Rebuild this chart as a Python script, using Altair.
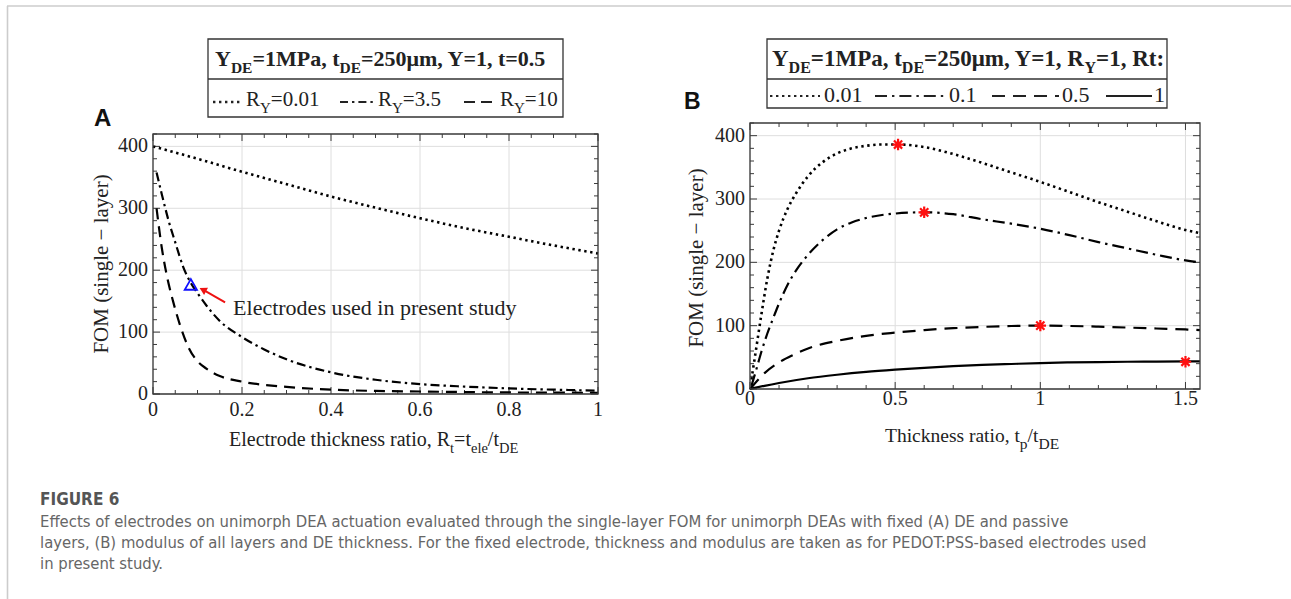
import altair as alt
import pandas as pd

# ---------------- data ----------------
# Panel A: FOM vs electrode thickness ratio Rt, for three modulus ratios R_Y
A_RY001_X = [0.0, 0.1, 0.2, 0.3, 0.4, 0.5, 0.6, 0.7, 0.8, 0.9, 1.0]
A_RY001_Y = [400, 380, 359, 339, 319, 301, 284, 268, 254, 240, 227]

A_RY35_X = [0.008, 0.02, 0.035, 0.05, 0.068, 0.087, 0.1, 0.12, 0.15, 0.2, 0.25, 0.3, 0.4, 0.5, 0.6, 0.7, 0.8, 0.9, 1.0]
A_RY35_Y = [358, 322, 280, 245, 205, 177, 163, 143, 118, 92, 72, 56, 35, 23, 16, 12, 9, 7, 5.5]

A_RY10_X = [0.008, 0.02, 0.03, 0.045, 0.06, 0.08, 0.1, 0.12, 0.15, 0.2, 0.3, 0.4, 0.5, 0.6, 0.8, 1.0]
A_RY10_Y = [300, 235, 195, 150, 113, 75, 53, 41, 29, 20, 11.5, 7, 5, 4, 2.5, 2]

# electrode used in the present study
A_MARK_X = [0.085]
A_MARK_Y = [177]

# Panel B: FOM vs passive-layer thickness ratio, for four electrode thickness ratios Rt
B_RT001_X = [0.005, 0.02, 0.04, 0.06, 0.08, 0.1, 0.13, 0.16, 0.2, 0.25, 0.3, 0.35, 0.4, 0.45, 0.51,
             0.6, 0.7, 0.8, 0.9, 1.0, 1.1, 1.2, 1.3, 1.4, 1.5, 1.55]
B_RT001_Y = [15, 60, 120, 175, 218, 250, 285, 310, 336, 358, 372, 380, 384, 386, 386,
             382, 371, 357, 342, 327, 311, 295, 280, 265, 251, 246]

B_RT01_X = [0.005, 0.02, 0.04, 0.06, 0.08, 0.1, 0.13, 0.16, 0.2, 0.25, 0.3, 0.35, 0.4, 0.5, 0.6,
            0.7, 0.8, 0.9, 1.0, 1.1, 1.2, 1.3, 1.4, 1.5, 1.55]
B_RT01_Y = [5, 28, 60, 88, 112, 135, 165, 188, 212, 235, 252, 263, 270, 277, 279,
            276, 268, 261, 253, 243, 232, 222, 212, 203, 200]

B_RT05_X = [0.0, 0.05, 0.1, 0.15, 0.2, 0.3, 0.4, 0.5, 0.6, 0.7, 0.8, 0.9, 1.0, 1.1, 1.2, 1.3, 1.4, 1.5, 1.55]
B_RT05_Y = [0, 25, 42, 54, 64, 76, 84, 89, 93, 96, 98, 99.5, 100, 99.5, 98.5, 97, 95.5, 94, 93]

B_RT1_X = [0.0, 0.05, 0.1, 0.2, 0.3, 0.4, 0.5, 0.6, 0.7, 0.8, 0.9, 1.0, 1.1, 1.2, 1.3, 1.4, 1.5, 1.55]
B_RT1_Y = [0, 5, 9.5, 17, 22.5, 27, 30.5, 33.5, 36, 38, 39.5, 41, 42, 42.5, 43, 43.3, 43.5, 43.5]

# optimum points
B_OPT_X = [0.51, 0.6, 1.0, 1.5]
B_OPT_Y = [386, 279, 100, 43]

# axes
A_XDOM = [0, 1]
A_YDOM = [0, 420]
A_XTICKS = [0, 0.2, 0.4, 0.6, 0.8, 1]
A_XLABELS = ["0", "0.2", "0.4", "0.6", "0.8", "1"]
B_XDOM = [0, 1.55]
B_YDOM = [0, 420]
B_XTICKS = [0, 0.5, 1, 1.5]
B_XLABELS = ["0", "0.5", "1", "1.5"]
YTICKS = [0, 100, 200, 300, 400]
YLABELS = ["0", "100", "200", "300", "400"]

CAPTION = [
    "Effects of electrodes on unimorph DEA actuation evaluated through the single-layer FOM for unimorph DEAs with fixed (A) DE and passive",
    "layers, (B) modulus of all layers and DE thickness. For the fixed electrode, thickness and modulus are taken as for PEDOT:PSS-based electrodes used",
    "in present study.",
]

# ---------------- layout ----------------
W, H = 1291, 599
A_L, A_R, A_T, A_B = 153, 598, 134, 394
B_L, B_R, B_T, B_B = 750, 1200, 123, 389

SERIF = "Liberation Serif, Times New Roman, serif"
SANS = "Liberation Sans, Arial, sans-serif"
NARROW = "Liberation Sans Narrow, DejaVu Sans Condensed, Open Sans, sans-serif"
INK = "#222222"
FRAME = "#3a3a3a"
GRID = "#dedede"

ONE = pd.DataFrame({"k": [0]})

DOT = [2.4, 3.6]
DASHDOT = [9, 4, 2.4, 4]
DASH = [11, 7]

# advance widths (per 1000 em) of the serif face, used to set subscripts next to their base
REG = {" ": 250, "(": 333, ")": 333, ",": 250, ".": 250, "/": 278, "=": 564, ":": 278,
       "D": 722, "E": 611, "R": 667, "T": 611, "Y": 722,
       "a": 444, "c": 444, "d": 500, "e": 444, "h": 500, "i": 278, "k": 500, "l": 278,
       "n": 500, "o": 500, "p": 500, "r": 333, "s": 389, "t": 278}
BLD = {" ": 250, ",": 250, ".": 250, "=": 570, ":": 333, "D": 722, "E": 667, "M": 944,
       "P": 611, "R": 722, "Y": 722, "a": 500, "m": 833, "t": 333, "\u03bc": 556}


def adv(s, size, bold):
    table = BLD if bold else REG
    return sum(table.get(c, 500) for c in s) / 1000 * size


def txt(s, x, y, size=20, bold=False, font=SERIF, align="left", baseline="alphabetic",
        color=INK, angle=0):
    return alt.Chart(ONE).mark_text(
        text=s, align=align, baseline=baseline, fontSize=size,
        fontWeight="bold" if bold else "normal", font=font, color=color, angle=angle,
    ).encode(x=alt.value(x), y=alt.value(y))


def chain(x, y, parts, size=20, sub=14, drop=7, bold=False):
    """Run of text pieces; pieces starting with '_' are set as subscripts."""
    out = []
    for p in parts:
        is_sub = p.startswith("_")
        s = p[1:] if is_sub else p
        fs = sub if is_sub else size
        out.append(txt(s, x, y + (drop if is_sub else 0), size=fs, bold=bold))
        x += adv(s, fs, bold)
    return out


def hline(x1, x2, y, dash=None, color=INK, width=2.2):
    kw = dict(color=color, strokeWidth=width)
    if dash:
        kw["strokeDash"] = dash
    return alt.Chart(ONE).mark_rule(**kw).encode(
        x=alt.value(x1), x2=alt.value(x2), y=alt.value(y))


def box(x1, x2, y1, y2, color=FRAME, width=1.3):
    return alt.Chart(ONE).mark_rect(fillOpacity=0, stroke=color, strokeWidth=width).encode(
        x=alt.value(x1), x2=alt.value(x2), y=alt.value(y1), y2=alt.value(y2))


def panel(xdom, ydom, L, R, T, B, xticks, xlabels, xminor, yminor, xlab_y, series, extra):
    xs = alt.Scale(domain=xdom, range=[L, R], nice=False, zero=False)
    ys = alt.Scale(domain=ydom, range=[B, T], nice=False, zero=False)

    def X(f):
        return alt.X(f, type="quantitative", scale=xs, axis=None)

    def Y(f):
        return alt.Y(f, type="quantitative", scale=ys, axis=None)

    xt = pd.DataFrame({"v": xticks, "lab": xlabels})
    yt = pd.DataFrame({"v": YTICKS, "lab": YLABELS})
    xm = pd.DataFrame({"v": xminor})
    ym = pd.DataFrame({"v": yminor})

    layers = [
        alt.Chart(xt).mark_rule(color=GRID, strokeWidth=1).encode(
            x=X("v"), y=alt.value(T), y2=alt.value(B)),
        alt.Chart(yt).mark_rule(color=GRID, strokeWidth=1).encode(
            y=Y("v"), x=alt.value(L), x2=alt.value(R)),
    ]
    for df, ln in ((xt, 7), (xm, 4)):
        layers.append(alt.Chart(df).mark_rule(color=FRAME, strokeWidth=1).encode(
            x=X("v"), y=alt.value(B), y2=alt.value(B - ln)))
        layers.append(alt.Chart(df).mark_rule(color=FRAME, strokeWidth=1).encode(
            x=X("v"), y=alt.value(T), y2=alt.value(T + ln)))
    for df, ln in ((yt, 7), (ym, 4)):
        layers.append(alt.Chart(df).mark_rule(color=FRAME, strokeWidth=1).encode(
            y=Y("v"), x=alt.value(L), x2=alt.value(L + ln)))
        layers.append(alt.Chart(df).mark_rule(color=FRAME, strokeWidth=1).encode(
            y=Y("v"), x=alt.value(R), x2=alt.value(R - ln)))

    for xv, yv, dash, width in series:
        kw = dict(interpolate="monotone", color="black", strokeWidth=width, strokeCap="butt")
        if dash:
            kw["strokeDash"] = dash
        layers.append(alt.Chart(pd.DataFrame({"x": xv, "y": yv})).mark_line(**kw).encode(
            x=X("x"), y=Y("y")))

    layers.append(box(L, R, T, B))
    layers.append(alt.Chart(xt).mark_text(font=SERIF, fontSize=20, color=INK, baseline="middle").encode(
        x=X("v"), y=alt.value(xlab_y), text="lab:N"))
    layers.append(alt.Chart(yt).mark_text(font=SERIF, fontSize=20, color=INK, baseline="middle",
                                          align="right").encode(
        y=Y("v"), x=alt.value(L - 5), text="lab:N"))
    layers += [e(X, Y) for e in extra]
    return alt.layer(*layers)


# ---- panel A ----
def a_marker(X, Y):
    return alt.Chart(pd.DataFrame({"x": A_MARK_X, "y": A_MARK_Y})).mark_point(
        shape="triangle-up", filled=False, color="#1010ff", strokeWidth=1.8, size=150, opacity=1
    ).encode(x=X("x"), y=Y("y"))


def a_arrow(X, Y):
    return alt.Chart(pd.DataFrame({"x": [0.162], "y": [148], "x2": [0.118], "y2": [166]})).mark_rule(
        color="#ee1111", strokeWidth=2).encode(x=X("x"), y=Y("y"), x2="x2", y2="y2")


def a_head(X, Y):
    return alt.Chart(pd.DataFrame({"x": [0.112], "y": [168.5]})).mark_point(
        shape="triangle-up", filled=True, color="#ee1111", size=70, angle=298, opacity=1
    ).encode(x=X("x"), y=Y("y"))


def a_note(X, Y):
    return alt.Chart(pd.DataFrame({"x": [0.18], "y": [139], "t": ["Electrodes used in present study"]})).mark_text(
        font=SERIF, fontSize=22, color=INK, align="left", baseline="middle").encode(
        x=X("x"), y=Y("y"), text="t:N")


a_minor_x = [round(i * 0.05, 2) for i in range(21) if i % 4]
minor_y = [v for v in range(0, 421, 20) if v % 100]
b_minor_x = [round(i * 0.1, 1) for i in range(16) if i % 5]

panelA = panel(A_XDOM, A_YDOM, A_L, A_R, A_T, A_B, A_XTICKS, A_XLABELS, a_minor_x, minor_y, 410,
               [(A_RY001_X, A_RY001_Y, DOT, 2.6),
                (A_RY35_X, A_RY35_Y, DASHDOT, 2.2),
                (A_RY10_X, A_RY10_Y, DASH, 2.2)],
               [a_marker, a_arrow, a_head, a_note])


# ---- panel B ----
ASTERISK = "M-1,0L1,0M0,-1L0,1M-0.72,-0.72L0.72,0.72M-0.72,0.72L0.72,-0.72"


def b_opt(X, Y):
    return alt.Chart(pd.DataFrame({"x": B_OPT_X, "y": B_OPT_Y})).mark_point(
        shape=ASTERISK, filled=False, color="#ff1010", strokeWidth=2.2, size=130, opacity=1
    ).encode(x=X("x"), y=Y("y"))


panelB = panel(B_XDOM, B_YDOM, B_L, B_R, B_T, B_B, B_XTICKS, B_XLABELS, b_minor_x, minor_y, 399,
               [(B_RT001_X, B_RT001_Y, DOT, 2.6),
                (B_RT01_X, B_RT01_Y, [12, 5, 2.4, 5], 2.2),
                (B_RT05_X, B_RT05_Y, [13, 8], 2.2),
                (B_RT1_X, B_RT1_Y, None, 2.2)],
               [b_opt])

# ---------------- annotations ----------------
ann = [
    # page frame
    hline(7, W, 6, color="#cccccc", width=1.6),
    alt.Chart(ONE).mark_rule(color="#cccccc", strokeWidth=1.6).encode(
        x=alt.value(7.5), y=alt.value(6), y2=alt.value(H)),
    # panel letters
    txt("A", 94, 126, size=24, bold=True, font=SANS, color="#111111"),
    txt("B", 684, 109, size=23, bold=True, font=SANS, color="#111111"),
    # panel A legend
    box(208, 563, 39, 117, color="#333333", width=1.3),
    hline(208, 563, 79, color="#333333", width=1.3),
    hline(213, 242, 102, DOT, width=2.4),
    hline(340, 374, 102, [8, 4, 2.4, 4], width=2),
    hline(464, 496, 102, [11, 6], width=2),
    # panel B legend
    box(767, 1167, 39, 108, color="#333333", width=1.3),
    hline(767, 1167, 79, color="#333333", width=1.3),
    hline(770, 820, 96, DOT, width=2.2), txt("0.01", 824, 102, size=22),
    hline(875, 946, 96, [12, 5, 2.4, 5], width=2), txt("0.1", 949, 102, size=22),
    hline(992, 1059, 96, [13, 8], width=2), txt("0.5", 1062, 102, size=22),
    hline(1106, 1152, 96, None, width=2), txt("1", 1154, 102, size=22),
    # axis titles
    txt("FOM (single \u2212 layer)", 102, 264, size=21, align="center", baseline="middle", angle=270),
    txt("FOM (single \u2212 layer)", 697, 258, size=21, align="center", baseline="middle", angle=270),
    # caption
    txt("FIGURE 6", 40, 505, size=17, font=NARROW, color="#555555", bold=True),
    txt(CAPTION[0], 40, 527, size=16.5, font=NARROW, color="#666666"),
    txt(CAPTION[1], 40, 548, size=16.5, font=NARROW, color="#666666"),
    txt(CAPTION[2], 40, 569, size=16.5, font=NARROW, color="#666666"),
]
# legend headers and entries with subscripts
ann += chain(215, 66, ["Y", "_DE", "=1MPa, t", "_DE", "=250\u03bcm, Y=1, t=0.5"],
             size=22, sub=15.5, bold=True)
ann += chain(772, 66, ["Y", "_DE", "=1MPa, t", "_DE", "=250\u03bcm, Y=1, R", "_Y", "=1, Rt:"],
             size=23, sub=16, bold=True)
ann += chain(246, 106, ["R", "_Y", "=0.01"], size=21, sub=15)
ann += chain(378, 106, ["R", "_Y", "=3.5"], size=21, sub=15)
ann += chain(500, 106, ["R", "_Y", "=10"], size=21, sub=15)
ann += chain(229, 446, ["Electrode thickness ratio, R", "_t", "=t", "_ele", "/t", "_DE"],
             size=20, sub=14.5)
ann += chain(885, 442, ["Thickness ratio, t", "_p", "/t", "_DE"], size=19.5, sub=15.5)

chart = alt.layer(panelA, panelB, *ann).resolve_scale(
    x="independent", y="independent"
).properties(
    width=W, height=H, padding=0, autosize=alt.AutoSizeParams(type="none"),
    background="white",
).configure_view(stroke=None)

chart.save("out.html", embed_options={"renderer": "svg", "actions": False})
